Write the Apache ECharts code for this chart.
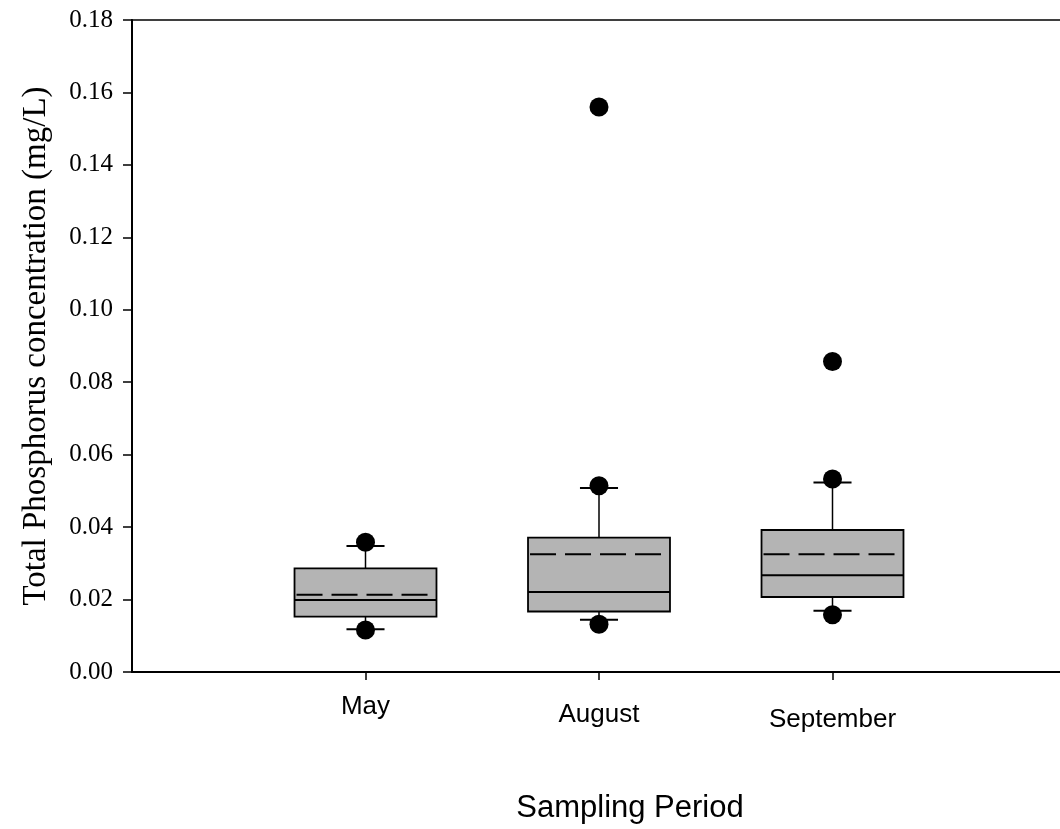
<!DOCTYPE html>
<html>
<head>
<meta charset="utf-8">
<script src="https://cdn.jsdelivr.net/npm/echarts@6/dist/echarts.min.js"></script>
<style>
html,body{margin:0;padding:0;background:#fff;}
#chart{width:1060px;height:829px;}
</style>
</head>
<body>
<div id="chart"></div>
<script>
// Axis categories (blank ends give the empty margins on each side)
const categories = ['', 'May', 'August', 'September', ''];
const boxCategories = ['May', 'August', 'September'];
// Box statistics (mg/L)
const lowWhisker  = [0.0118, 0.0144, 0.0169];
const q1          = [0.0153, 0.0167, 0.0207];
const median      = [0.0199, 0.0221, 0.0267];
const q3          = [0.0286, 0.0371, 0.0392];
const highWhisker = [0.0348, 0.0508, 0.0523];
const mean        = [0.0213, 0.0325, 0.0325];
// Outlying points: [category, value]
const outlierCat = ['May', 'May', 'August', 'August', 'August', 'September', 'September', 'September'];
const outlierVal = [0.0358, 0.0116, 0.0514, 0.0132, 0.156, 0.0533, 0.0158, 0.0857];
// Y tick labels
const yMin = 0, yMax = 0.18, yStep = 0.02;

const boxData = boxCategories.map((c, i) =>
  [c, lowWhisker[i], q1[i], median[i], q3[i], highWhisker[i], mean[i]]);
const outlierData = outlierCat.map((c, i) => [c, outlierVal[i]]);

const labelPad = {May: 0, August: 8, September: 13};

const chart = echarts.init(document.getElementById('chart'));
chart.setOption({
  animation: false,
  backgroundColor: '#fff',
  grid: {left: 132, width: 934, top: 20, bottom: 157, show: true,
         outerBoundsMode: 'none', containLabel: false,
         borderColor: '#000', borderWidth: 1.5, backgroundColor: 'transparent'},
  xAxis: {
    type: 'category',
    data: categories,
    boundaryGap: false,
    axisLine: {lineStyle: {color: '#000', width: 2}},
    axisTick: {show: true, length: 8, lineStyle: {color: '#000', width: 1.5},
               interval: (idx, val) => val !== ''},
    axisLabel: {
      interval: 0, margin: 22,
      formatter: v => v ? '{' + v.toLowerCase() + '|' + v + '}' : '',
      rich: {
        may: {fontFamily: 'Liberation Sans', fontSize: 26, color: '#000', padding: [labelPad.May, 0, 0, 0]},
        august: {fontFamily: 'Liberation Sans', fontSize: 26, color: '#000', padding: [labelPad.August, 0, 0, 0]},
        september: {fontFamily: 'Liberation Sans', fontSize: 26, color: '#000', padding: [labelPad.September, 0, 0, 0]}
      }
    },
    splitLine: {show: false},
    name: 'Sampling Period',
    nameLocation: 'middle',
    nameGap: 121,
    nameTextStyle: {fontFamily: 'Liberation Sans', fontSize: 31, color: '#000', padding: [0, 0, 0, 62]}
  },
  yAxis: {
    type: 'value',
    min: yMin, max: yMax, interval: yStep,
    axisLine: {show: true, lineStyle: {color: '#000', width: 2}},
    axisTick: {show: true, length: 9, lineStyle: {color: '#000', width: 1.5}},
    axisLabel: {margin: 19, formatter: v => v.toFixed(2),
                fontFamily: 'Liberation Serif', fontSize: 25, color: '#000'},
    splitLine: {show: false},
    name: 'Total Phosphorus concentration (mg/L)',
    nameLocation: 'middle',
    nameRotate: 90,
    nameGap: 79,
    nameTextStyle: {fontFamily: 'Liberation Serif', fontSize: 33, color: '#000'}
  },
  series: [
    {
      type: 'custom',
      data: boxData,
      encode: {x: 0, y: [1, 2, 3, 4, 5, 6]},
      z: 2,
      renderItem: function (params, api) {
        const cat = api.value(0);
        const band = api.size([1, 0])[0];
        const bw = band * 0.608, cw = band * 0.163;
        const pLow = api.coord([cat, api.value(1)]);
        const pQ1 = api.coord([cat, api.value(2)]);
        const pMed = api.coord([cat, api.value(3)]);
        const pQ3 = api.coord([cat, api.value(4)]);
        const pHigh = api.coord([cat, api.value(5)]);
        const pMean = api.coord([cat, api.value(6)]);
        const x = pQ1[0];
        const line = {stroke: '#000', lineWidth: 1.5};
        return {
          type: 'group',
          children: [
            {type: 'line', shape: {x1: x, y1: pQ3[1], x2: x, y2: pHigh[1]}, style: line},
            {type: 'line', shape: {x1: x, y1: pQ1[1], x2: x, y2: pLow[1]}, style: line},
            {type: 'line', shape: {x1: x - cw / 2, y1: pHigh[1], x2: x + cw / 2, y2: pHigh[1]}, style: {stroke: '#000', lineWidth: 2}},
            {type: 'line', shape: {x1: x - cw / 2, y1: pLow[1], x2: x + cw / 2, y2: pLow[1]}, style: {stroke: '#000', lineWidth: 2}},
            {type: 'rect', shape: {x: x - bw / 2, y: pQ3[1], width: bw, height: pQ1[1] - pQ3[1]},
             style: {fill: '#b4b4b4', stroke: '#000', lineWidth: 1.8}},
            {type: 'line', shape: {x1: x - bw / 2, y1: pMed[1], x2: x + bw / 2, y2: pMed[1]}, style: {stroke: '#000', lineWidth: 2}},
            {type: 'line', shape: {x1: x - bw / 2 + 2, y1: pMean[1], x2: x + bw / 2 - 2, y2: pMean[1]},
             style: {stroke: '#000', lineWidth: 2, lineDash: [26, 9]}}
          ]
        };
      }
    },
    {
      type: 'scatter',
      data: outlierData,
      symbol: 'circle',
      symbolSize: 19,
      itemStyle: {color: '#000', opacity: 1},
      z: 5
    }
  ]
});
</script>
</body>
</html>
